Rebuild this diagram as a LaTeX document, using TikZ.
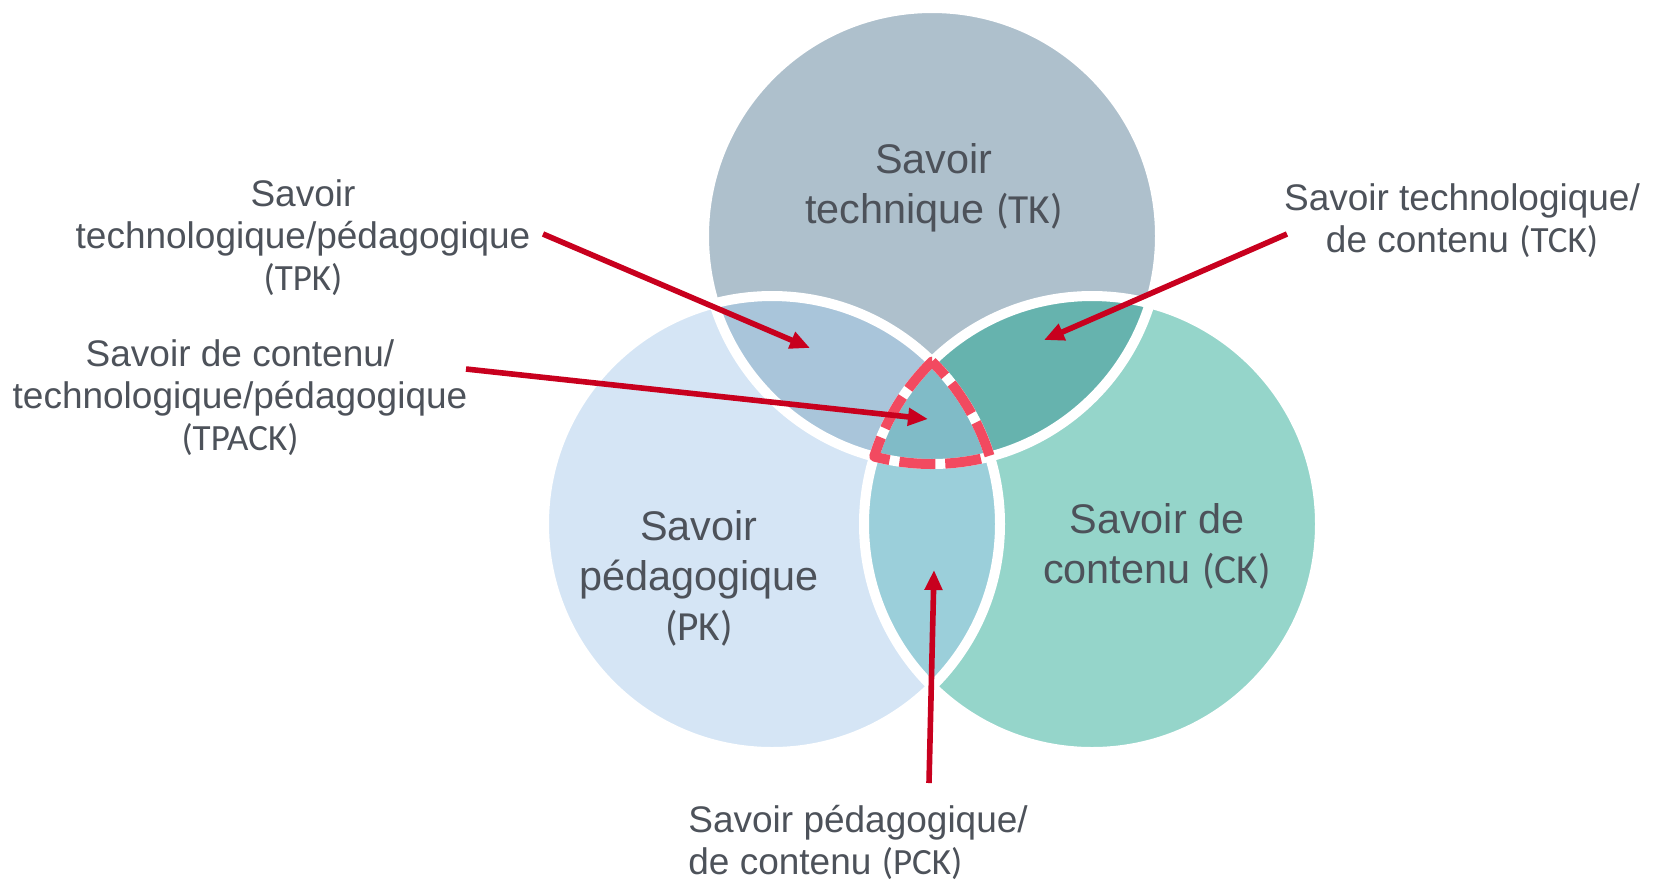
\documentclass[tikz,border=0pt]{standalone}
\usepackage{fontspec}
\setmainfont{Liberation Sans}
\newfontfamily\abbrfont{Carlito}
\usepackage{xcolor}
\usetikzlibrary{arrows.meta,positioning}

\definecolor{tkfill}{HTML}{AEC0CC}
\definecolor{pkfill}{HTML}{D5E5F5}
\definecolor{ckfill}{HTML}{95D5CA}
\definecolor{tpkfill}{HTML}{A9C5DA}
\definecolor{tckfill}{HTML}{66B3AE}
\definecolor{pckfill}{HTML}{9BCFDA}
\definecolor{tpackfill}{HTML}{80BBC7}
\definecolor{labelgray}{HTML}{4D525A}
\definecolor{arrowred}{HTML}{C8001E}
\definecolor{dashred}{HTML}{F24A60}

\newcommand{\abbr}[1]{{\abbrfont #1}}
\def\tkcircle{(932,236) circle[radius=228]}
\def\pkcircle{(772,524) circle[radius=228]}
\def\ckcircle{(1092,524) circle[radius=228]}

\begin{document}
\begin{tikzpicture}[x=0.5pt, y=-0.5pt,
    circlabel/.style={text=labelgray, align=center, inner sep=0pt, font=\fontsize{20.7}{25}\selectfont},
    sidelabel/.style={text=labelgray, align=center, inner sep=0pt, font=\fontsize{18.5}{21}\selectfont},
    pointer/.style={draw=arrowred, line width=2.8pt, -{Triangle[length=10pt,width=8.5pt]}},
    whiteline/.style={draw=white, line width=5pt}]
    \useasboundingbox (0,0) rectangle (1654,880);

    % Circles
    \fill[tkfill] \tkcircle;
    \fill[pkfill] \pkcircle;
    \fill[ckfill] \ckcircle;

    % Overlaps
    \begin{scope}
        \clip \pkcircle;
        \fill[pckfill] \ckcircle;
    \end{scope}
    \begin{scope}
        \clip \tkcircle;
        \fill[tpkfill] \pkcircle;
        \fill[tckfill] \ckcircle;
        \clip \pkcircle;
        \fill[tpackfill] \ckcircle;
    \end{scope}

    \draw[whiteline] \tkcircle;
    \draw[whiteline] \pkcircle;
    \draw[whiteline] \ckcircle;

    % Centre (TPACK) outline
    \draw[dashred, line width=5pt, dash pattern=on 18pt off 5pt, line join=round]
        (932,361.6) arc[start angle=225.43, end angle=197.21, radius=228]
        arc[start angle=104.68, end angle=75.32, radius=228]
        arc[start angle=-17.21, end angle=-45.43, radius=228] -- cycle;

    % Labels
    \node[circlabel] (tk) at (934,188) {Savoir\\technique \abbr{(TK)}};
    \node[circlabel] (pk) at (699,578) {Savoir\\pédagogique\\\abbr{(PK)}};
    \node[circlabel] (ck) at (1157,546) {Savoir de\\contenu \abbr{(CK)}};
    \node[sidelabel] (tpk) at (303,238) {Savoir\\technologique/pédagogique\\\abbr{(TPK)}};
    \node[sidelabel] (tpack) at (240,398) {Savoir de contenu/\\technologique/pédagogique\\\abbr{(TPACK)}};
    \node[sidelabel] (tck) at (1462,221) {Savoir technologique/\\de contenu \abbr{(TCK)}};
    \node[sidelabel, align=left, anchor=west] (pck) at (688,842) {Savoir pédagogique/\\de contenu \abbr{(PCK)}};

    % Pointers
    \foreach \name/\sx/\sy/\ex/\ey in {tpk/543/234/810/348, tpack/466/369/928/419,
            tck/1287/234/1044/340, pck/929/783/934/570}{
        \coordinate (\name-start) at (\sx,\sy);
        \coordinate (\name-end) at (\ex,\ey);
        \draw[pointer] (\name-start) -- (\name-end);
    }
\end{tikzpicture}
\end{document}
